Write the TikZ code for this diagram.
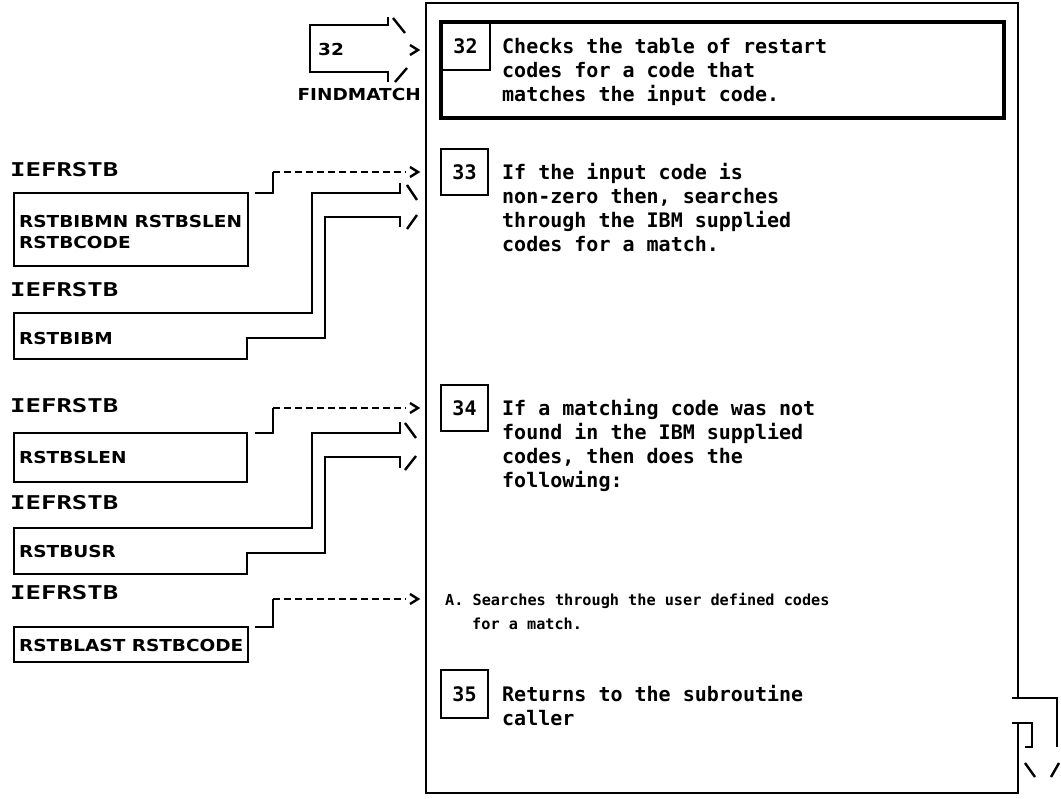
\documentclass[tikz,border=0pt]{standalone}
\usepackage{fontspec}
\newfontfamily\mmono{DejaVu Sans Mono}
\newfontfamily\mwide{DejaVu Sans Mono}[FakeStretch=1.35]
\newfontfamily\msans{DejaVu Sans}[FakeStretch=1.12]
\begin{document}
\begin{tikzpicture}[x=1pt,y=-1pt,
  ln/.style={line width=2.7pt},
  dsh/.style={line width=2.2pt, dash pattern=on 7pt off 4pt},
  mt/.style={font={\mmono\bfseries\fontsize{20}{24}\selectfont}, anchor=west, inner sep=0pt, text height=14.6pt, text depth=0pt},
  st/.style={font={\mmono\bfseries\fontsize{15.2}{18}\selectfont}, anchor=west, inner sep=0pt, text height=11pt, text depth=0pt},
  lb/.style={font={\mwide\bfseries\fontsize{19}{22}\selectfont}, anchor=west, inner sep=0pt, text height=13.9pt, text depth=0pt},
  bt/.style={font={\msans\bfseries\fontsize{16.5}{19}\selectfont}, anchor=west, inner sep=0pt, text height=12pt, text depth=0pt},
  numbox/.style={draw, line width=2.8pt, font={\mmono\bfseries\fontsize{20}{24}\selectfont}, inner sep=0pt, text height=14.6pt, text depth=0pt, minimum width=47pt, minimum height=46pt},
  chev/.style={line width=2.4pt}
]
\useasboundingbox[fill=white] (0,0) rectangle (1061,799);

% main box
\coordinate (exitTop) at (1018,698);
\coordinate (exitBot) at (1018,723);
\draw[ln] (exitTop) -- (1018,3) -- (426,3) -- (426,793) -- (1018,793) -- (exitBot);
\draw[line width=3.4pt] (441,22) rectangle (1004,118);

% step numbers
\node[numbox, minimum width=49pt, minimum height=48pt] (n32) at (465.5,46) {32};
\node[numbox] (n33) at (464.5,172) {33};
\node[numbox] (n34) at (464.5,408) {34};
\node[numbox, minimum height=48pt] (n35) at (464.5,694) {35};

% main texts
\node[mt] (t32a) at (502,46) {Checks the table of restart};
\node[mt] (t32b) at (502,70) {codes for a code that};
\node[mt] (t32c) at (502,94) {matches the input code.};
\node[mt] (t33a) at (502,172) {If the input code is};
\node[mt] (t33b) at (502,196) {non-zero then, searches};
\node[mt] (t33c) at (502,220) {through the IBM supplied};
\node[mt] (t33d) at (502,244) {codes for a match.};
\node[mt] (t34a) at (502,408) {If a matching code was not};
\node[mt] (t34b) at (502,432) {found in the IBM supplied};
\node[mt] (t34c) at (502,456) {codes, then does the};
\node[mt] (t34d) at (502,480) {following:};
\node[st] (tAa) at (445,600) {A. Searches through the user defined codes};
\node[st] (tAb) at (472,624) {for a match.};
\node[mt] (t35a) at (502,694) {Returns to the subroutine};
\node[mt] (t35b) at (502,718) {caller};

% FINDMATCH entry arrow
\node[bt] (fm32) at (318,50) {32};
\node[bt, anchor=east] (fm) at (421,95) {FINDMATCH};
\draw[ln] (388,17) -- (388,25) -- (310,25) -- (310,72) -- (388,72) -- (388,82);
\draw[chev] (393,18) -- (405,33);
\draw[chev] (410,45) -- (418,50) -- (410,55);
\draw[chev] (395,82) -- (407,68);

% left labels
\node[lb] (L1) at (10,170) {IEFRSTB};
\node[lb] (L2) at (10,290) {IEFRSTB};
\node[lb] (L3) at (10,406) {IEFRSTB};
\node[lb] (L4) at (10,503) {IEFRSTB};
\node[lb] (L5) at (10,593) {IEFRSTB};

% box 1 and dashed arrow
\draw[ln] (14,193) rectangle (248,266);
\node[bt] (b1a) at (19,222) {RSTBIBMN RSTBSLEN};
\node[bt] (b1b) at (19,243) {RSTBCODE};
\draw[ln] (255,193) -- (273,193) -- (273,172);
\draw[dsh] (273,172) -- (406,172);
\draw[chev] (410,167) -- (418,172) -- (410,177);

% box 2 with fat arrow
\draw[ln] (400,183) -- (400,193) -- (312,193) -- (312,313) -- (14,313) -- (14,359)
          -- (247,359) -- (247,338) -- (325,338) -- (325,217) -- (400,217) -- (400,227);
\node[bt] (b2) at (19,339) {RSTBIBM};
\draw[chev] (407,185) -- (417,200);
\draw[chev] (407,229) -- (417,215);

% box 3 and dashed arrow
\draw[ln] (14,433) rectangle (247,482);
\node[bt] (b3) at (19,458) {RSTBSLEN};
\draw[ln] (255,433) -- (273,433) -- (273,408);
\draw[dsh] (273,408) -- (406,408);
\draw[chev] (410,403) -- (418,408) -- (410,413);

% box 4 with fat arrow
\draw[ln] (400,422) -- (400,433) -- (312,433) -- (312,528) -- (14,528) -- (14,574)
          -- (247,574) -- (247,553) -- (325,553) -- (325,457) -- (400,457) -- (400,468);
\node[bt] (b4) at (19,552) {RSTBUSR};
\draw[chev] (405,423) -- (416,438);
\draw[chev] (405,470) -- (416,456);

% box 5 and dashed arrow
\draw[ln] (14,627) rectangle (248,662);
\node[bt] (b5) at (19,645) {RSTBLAST RSTBCODE};
\draw[ln] (255,627) -- (273,627) -- (273,599);
\draw[dsh] (273,599) -- (406,599);
\draw[chev] (410,594) -- (418,599) -- (410,604);

% exit arrow
\draw[ln] (1012,698) -- (1057,698) -- (1057,747);
\draw[ln] (1012,723) -- (1032,723) -- (1032,747) -- (1025,747);
\draw[chev] (1025,763) -- (1035,777);
\draw[chev] (1059,763) -- (1051,777);
\end{tikzpicture}
\end{document}
